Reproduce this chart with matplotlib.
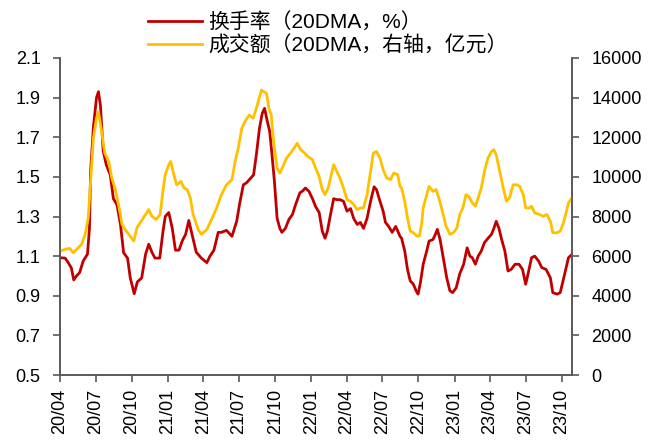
import matplotlib
matplotlib.use("Agg")
import matplotlib.pyplot as plt
import pandas as pd

# 换手率（20DMA，%）
turn_dates = [
    "2020-04-01", "2020-04-14", "2020-04-22", "2020-04-30", "2020-05-06", "2020-05-13", "2020-05-21", "2020-05-30",
    "2020-06-10", "2020-06-15", "2020-06-18", "2020-06-25", "2020-07-03", "2020-07-08", "2020-07-13", "2020-07-20",
    "2020-07-28", "2020-08-07", "2020-08-15", "2020-08-24", "2020-09-02", "2020-09-10", "2020-09-20", "2020-09-27",
    "2020-10-07", "2020-10-15", "2020-10-26", "2020-11-05", "2020-11-13", "2020-11-21", "2020-11-29", "2020-12-11",
    "2020-12-19", "2020-12-25", "2021-01-03", "2021-01-12", "2021-01-20", "2021-01-29", "2021-02-07", "2021-02-15",
    "2021-02-23", "2021-03-02", "2021-03-14", "2021-03-27", "2021-04-10", "2021-04-18", "2021-04-28", "2021-05-09",
    "2021-05-17", "2021-05-30", "2021-06-13", "2021-06-25", "2021-07-03", "2021-07-12", "2021-07-20", "2021-08-07",
    "2021-08-14", "2021-08-22", "2021-08-29", "2021-09-04", "2021-09-11", "2021-09-17", "2021-09-23", "2021-09-29",
    "2021-10-06", "2021-10-13", "2021-10-18", "2021-10-27", "2021-11-05", "2021-11-14", "2021-11-22", "2021-12-03",
    "2021-12-09", "2021-12-17", "2021-12-26", "2022-01-04", "2022-01-12", "2022-01-21", "2022-01-29", "2022-02-05",
    "2022-02-11", "2022-02-19", "2022-02-27", "2022-03-07", "2022-03-15", "2022-03-24", "2022-04-02", "2022-04-11",
    "2022-04-19", "2022-04-28", "2022-05-06", "2022-05-14", "2022-05-23", "2022-06-01", "2022-06-10", "2022-06-16",
    "2022-06-25", "2022-07-03", "2022-07-09", "2022-07-17", "2022-07-26", "2022-08-04", "2022-08-15", "2022-08-19",
    "2022-08-27", "2022-09-03", "2022-09-10", "2022-09-18", "2022-09-25", "2022-09-30", "2022-10-06", "2022-10-13",
    "2022-10-22", "2022-10-28", "2022-11-07", "2022-11-13", "2022-11-18", "2022-11-25", "2022-12-03", "2022-12-12",
    "2022-12-20", "2022-12-27", "2023-01-05", "2023-01-14", "2023-01-24", "2023-02-02", "2023-02-09", "2023-02-15",
    "2023-02-23", "2023-03-02", "2023-03-10", "2023-03-18", "2023-03-27", "2023-04-05", "2023-04-11", "2023-04-17",
    "2023-04-24", "2023-04-30", "2023-05-09", "2023-05-17", "2023-05-25", "2023-06-04", "2023-06-14", "2023-06-23",
    "2023-07-01", "2023-07-07", "2023-07-16", "2023-07-24", "2023-08-03", "2023-08-11", "2023-08-22", "2023-09-02",
    "2023-09-08", "2023-09-19", "2023-09-27", "2023-10-06", "2023-10-12", "2023-10-18", "2023-10-27",
]
turn_values = [
    1.092, 1.09, 1.067, 1.04, 0.98, 1.00, 1.017, 1.075,
    1.11, 1.24, 1.53, 1.75, 1.90, 1.93, 1.86, 1.63,
    1.56, 1.51, 1.39, 1.36, 1.26, 1.117, 1.09, 0.99,
    0.91, 0.97, 0.99, 1.11, 1.16, 1.12, 1.09, 1.09,
    1.22, 1.30, 1.32, 1.24, 1.13, 1.13, 1.18, 1.21,
    1.28, 1.22, 1.12, 1.09, 1.067, 1.10, 1.13, 1.22,
    1.22, 1.23, 1.20, 1.276, 1.37, 1.46, 1.47, 1.51,
    1.61, 1.745, 1.82, 1.846, 1.78, 1.73, 1.61, 1.48,
    1.29, 1.24, 1.22, 1.24, 1.285, 1.31, 1.36, 1.42,
    1.427, 1.444, 1.427, 1.39, 1.35, 1.32, 1.226, 1.19,
    1.226, 1.31, 1.39, 1.385, 1.385, 1.377, 1.327, 1.34,
    1.29, 1.26, 1.27, 1.24, 1.29, 1.377, 1.45, 1.436,
    1.377, 1.327, 1.27, 1.25, 1.22, 1.25, 1.20, 1.19,
    1.126, 1.033, 0.975, 0.958, 0.925, 0.908, 0.967, 1.059,
    1.126, 1.176, 1.184, 1.21, 1.235, 1.184, 1.092, 0.99,
    0.925, 0.916, 0.94, 1.01, 1.059, 1.142, 1.10, 1.092,
    1.059, 1.10, 1.126, 1.168, 1.19, 1.21, 1.24, 1.276,
    1.24, 1.19, 1.126, 1.025, 1.033, 1.059, 1.059, 1.033,
    0.958, 1.01, 1.092, 1.10, 1.075, 1.042, 1.033, 0.99,
    0.916, 0.908, 0.916, 0.99, 1.042, 1.092, 1.109,
]

# 成交额（20DMA，右轴，亿元）
amt_dates = [
    "2020-04-01", "2020-04-14", "2020-04-26", "2020-05-05", "2020-05-13", "2020-05-26", "2020-06-04", "2020-06-12",
    "2020-06-18", "2020-06-25", "2020-07-03", "2020-07-08", "2020-07-16", "2020-07-24", "2020-08-03", "2020-08-11",
    "2020-08-19", "2020-08-28", "2020-09-06", "2020-09-14", "2020-09-23", "2020-10-06", "2020-10-14", "2020-10-22",
    "2020-11-05", "2020-11-13", "2020-11-21", "2020-12-02", "2020-12-12", "2020-12-19", "2020-12-25", "2021-01-03",
    "2021-01-08", "2021-01-16", "2021-01-23", "2021-02-03", "2021-02-11", "2021-02-19", "2021-02-27", "2021-03-06",
    "2021-03-19", "2021-03-27", "2021-04-10", "2021-04-22", "2021-05-05", "2021-05-17", "2021-05-30", "2021-06-13",
    "2021-06-21", "2021-06-29", "2021-07-08", "2021-07-16", "2021-07-27", "2021-08-06", "2021-08-14", "2021-08-21",
    "2021-08-27", "2021-09-02", "2021-09-09", "2021-09-15", "2021-09-21", "2021-09-27", "2021-10-06", "2021-10-13",
    "2021-10-21", "2021-10-30", "2021-11-09", "2021-11-18", "2021-11-26", "2021-12-05", "2021-12-15", "2021-12-23",
    "2022-01-04", "2022-01-12", "2022-01-21", "2022-01-29", "2022-02-05", "2022-02-13", "2022-02-22", "2022-02-27",
    "2022-03-07", "2022-03-15", "2022-03-24", "2022-04-02", "2022-04-11", "2022-04-19", "2022-04-28", "2022-05-06",
    "2022-05-14", "2022-05-23", "2022-06-01", "2022-06-08", "2022-06-16", "2022-06-25", "2022-07-03", "2022-07-12",
    "2022-07-22", "2022-07-30", "2022-08-09", "2022-08-15", "2022-08-19", "2022-08-27", "2022-09-03", "2022-09-10",
    "2022-09-18", "2022-09-27", "2022-10-03", "2022-10-09", "2022-10-13", "2022-10-22", "2022-10-28", "2022-11-07",
    "2022-11-15", "2022-11-23", "2022-12-02", "2022-12-10", "2022-12-20", "2022-12-29", "2023-01-07", "2023-01-14",
    "2023-01-22", "2023-01-30", "2023-02-06", "2023-02-15", "2023-02-23", "2023-03-02", "2023-03-10", "2023-03-18",
    "2023-03-27", "2023-04-05", "2023-04-11", "2023-04-17", "2023-04-26", "2023-05-04", "2023-05-13", "2023-05-21",
    "2023-05-30", "2023-06-08", "2023-06-16", "2023-06-25", "2023-07-01", "2023-07-10", "2023-07-16", "2023-07-24",
    "2023-08-05", "2023-08-15", "2023-08-24", "2023-09-02", "2023-09-08", "2023-09-19", "2023-09-27", "2023-10-04",
    "2023-10-12", "2023-10-18", "2023-10-27",
]
amt_values = [
    6256, 6340, 6390, 6170, 6340, 6590, 7100, 7930,
    9770, 11950, 12960, 13290, 12290, 11200, 10780, 9940,
    9440, 8600, 7600, 7340, 7100, 6760, 7430, 7680,
    8100, 8350, 8010, 7850, 8100, 9270, 10110, 10610,
    10780, 10110, 9600, 9770, 9440, 9360, 8940, 8100,
    7340, 7100, 7340, 7850, 8430, 9100, 9600, 9860,
    10780, 11450, 12450, 12790, 13120, 12960, 13460, 13960,
    14380, 14300, 14210, 13460, 13120, 11790, 10440, 10190,
    10530, 10950, 11200, 11450, 11700, 11370, 11200, 11030,
    10860, 10440, 10020, 9360, 9100, 9440, 10190, 10610,
    10280, 9940, 9440, 8850, 8770, 8600, 8350, 8430,
    8430, 9100, 10280, 11200, 11280, 10950, 10360, 9940,
    9860, 10190, 10110, 9520, 9440, 8770, 7930, 7260,
    7180, 7010, 7010, 7600, 8430, 9100, 9520, 9270,
    9360, 8850, 8180, 7520, 7100, 7180, 7430, 8100,
    8430, 9100, 9020, 8690, 8520, 8940, 9440, 10280,
    10950, 11280, 11370, 11110, 10280, 9520, 8770, 8940,
    9600, 9600, 9520, 9100, 8430, 8430, 8520, 8180,
    8100, 8010, 8100, 7760, 7180, 7180, 7260, 7600,
    8180, 8690, 8940,
]

tick_labels = ["20/04", "20/07", "20/10", "21/01", "21/04", "21/07", "21/10", "22/01",
               "22/04", "22/07", "22/10", "23/01", "23/04", "23/07", "23/10"]
left_ticks = [0.5, 0.7, 0.9, 1.1, 1.3, 1.5, 1.7, 1.9, 2.1]
right_ticks = [0, 2000, 4000, 6000, 8000, 10000, 12000, 14000, 16000]

label_turn = "换手率（20DMA，%）"
label_amt = "成交额（20DMA，右轴，亿元）"

plt.rcParams['font.family'] = ['Liberation Sans', 'Noto Sans CJK SC', 'DejaVu Sans']

RED = "#C00000"
YELLOW = "#FFC000"
AXC = "#595959"

fig = plt.figure(figsize=(6.51, 4.43), dpi=100)
ax = fig.add_axes([60 / 651, 1 - 375 / 443, (572 - 60) / 651, (375 - 58) / 443])
ax2 = ax.twinx()

td = pd.to_datetime(turn_dates)
ad = pd.to_datetime(amt_dates)

l1, = ax.plot(td, turn_values, color=RED, lw=2.0, label=label_turn)
l2, = ax2.plot(ad, amt_values, color=YELLOW, lw=2.0, label=label_amt)

ax.set_ylim(0.5, 2.1)
ax.set_yticks(left_ticks)
ax.set_yticklabels([f"{v:.1f}" for v in left_ticks])
ax2.set_ylim(0, 16000)
ax2.set_yticks(right_ticks)
ax2.set_yticklabels([str(v) for v in right_ticks])

tick_dates = pd.to_datetime(["20" + t.replace("/", "-") + "-01" for t in tick_labels])
ax.set_xticks(tick_dates)
ax.set_xticklabels(tick_labels, rotation=90)
ax.set_xlim(pd.Timestamp("2020-04-01"), pd.Timestamp("2023-10-27"))

for a in (ax, ax2):
    a.spines['top'].set_visible(False)
    for s in ('left', 'right', 'bottom'):
        a.spines[s].set_color(AXC)
        a.spines[s].set_linewidth(1.2)
    a.tick_params(axis='both', colors=AXC, labelcolor='black', labelsize=13,
                  direction='out', length=5, width=1.2)
ax.tick_params(axis='y', pad=9)
ax2.tick_params(axis='y', pad=9)
ax.tick_params(axis='x', pad=5)

fig.legend(handles=[l1, l2], loc='upper left', bbox_to_anchor=(148 / 651, 1 - 12 / 443),
           frameon=False, fontsize=15, handlelength=2.6, labelspacing=0.15,
           handletextpad=0.3, borderaxespad=0.0, borderpad=0.0)

fig.savefig("out.png", dpi=100)
